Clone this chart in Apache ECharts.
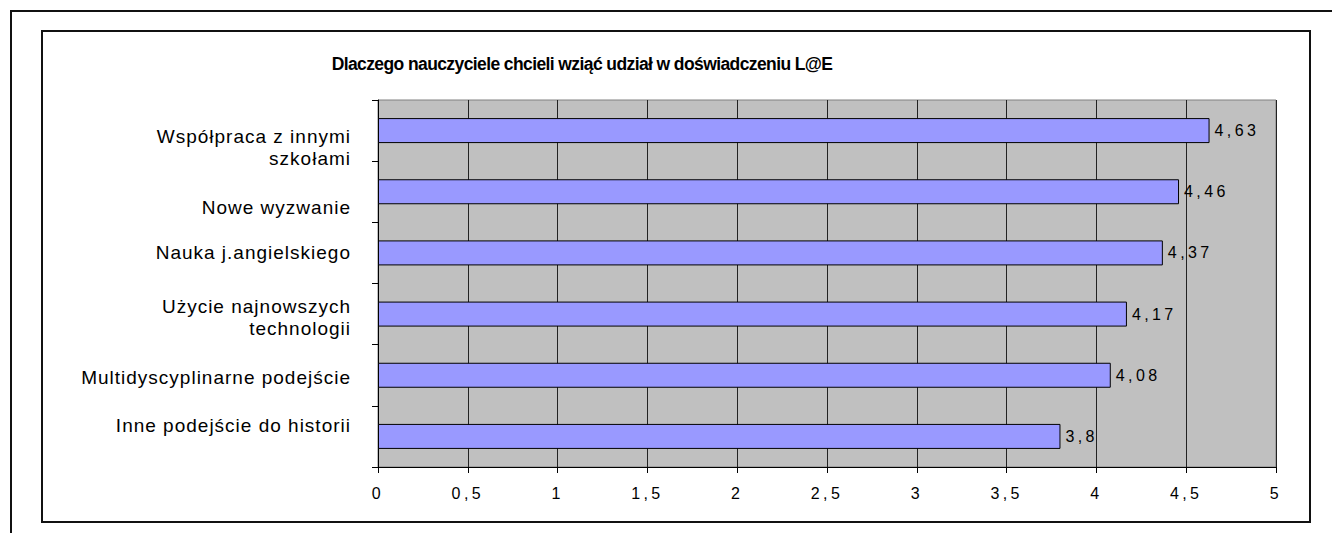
<!DOCTYPE html>
<html><head><meta charset="utf-8">
<script src="https://cdn.jsdelivr.net/npm/echarts@6/dist/echarts.min.js"></script>
<style>
html,body{margin:0;padding:0;background:#fff;}
#wrap{position:relative;width:1332px;height:533px;overflow:hidden;}
#outer{position:absolute;left:10px;top:10px;width:1400px;height:600px;border-left:2px solid #111;border-top:2px solid #111;}
#inner{position:absolute;left:41px;top:30px;width:1266px;height:489px;border:2px solid #111;}
#chart{position:absolute;left:0;top:0;width:1332px;height:533px;}
#chart text[style*="19px"]{letter-spacing:1px;}
#chart text[style*=" 16px"], #chart text[style*=":16px"]{letter-spacing:3.4px;}
#chart text[style*="17.5px"]{letter-spacing:-0.6px;}
</style></head>
<body><div id="wrap"><div id="outer"></div><div id="inner"></div><div id="chart"></div></div>
<script>
const titleText = 'Dlaczego nauczyciele chcieli wziąć udział w doświadczeniu L@E';
const categories = ['Współpraca z innymi\nszkołami','Nowe wyzwanie','Nauka j.angielskiego','Użycie najnowszych\ntechnologii','Multidyscyplinarne podejście','Inne podejście do historii'];
const values = [4.63, 4.46, 4.37, 4.17, 4.08, 3.8];

// label vertical nudges (style only, mimics the original's label placement)
const labelNudge = [17, 16, 0, 3, 2, -11];
const FONT = 'Arial, Liberation Sans';
const LH = 22;
const rich = {n:{fontSize:19,fontFamily:FONT,color:'#000',lineHeight:LH,align:'right'}};
labelNudge.forEach((s,i)=>{
  const pad = s>=0 ? [2*s,0,0,0] : [0,0,-2*s,0];
  rich['s'+i] = {fontSize:19,fontFamily:FONT,color:'#000',lineHeight:LH+2*Math.abs(s),padding:pad,align:'right'};
});

const chart = echarts.init(document.getElementById('chart'), null, {renderer:'svg'});
const fmt = v => String(v).replace('.', ',');
chart.setOption({
  animation:false,
  title:{text:titleText,left:577,top:50,textAlign:'center',textStyle:{fontFamily:FONT,fontSize:17.5,fontWeight:'bold',color:'#000'}},
  grid:{left:378,right:56,top:100,bottom:66,show:true,backgroundColor:'#C0C0C0',borderColor:'#808080',borderWidth:1},
  xAxis:{type:'value',min:0,max:5,interval:0.5,
    axisLine:{show:true,lineStyle:{color:'#000',width:1}},
    axisTick:{show:true,length:6,lineStyle:{color:'#000'}},
    splitLine:{show:true,lineStyle:{color:'#222',width:1}},
    axisLabel:{formatter:v=>fmt(v),fontFamily:FONT,fontSize:16,color:'#000',margin:18}
  },
  yAxis:{type:'category',data:categories,inverse:true,
    axisLine:{show:true,onZero:false,lineStyle:{color:'#000',width:1}},
    axisTick:{show:true,length:6,inside:false,interval:0,lineStyle:{color:'#000'}},
    splitLine:{show:false},
    axisLabel:{interval:0,hideOverlap:false,showMinLabel:true,showMaxLabel:true,fontFamily:FONT,fontSize:19,color:'#000',margin:27,align:'right',
      formatter:(v,i)=>{
        const lines = v.split('\n');
        const s = labelNudge[i];
        return lines.map((l,k)=>{
          const useS = (s>=0 && k===0) || (s<0 && k===lines.length-1);
          return '{'+(useS?('s'+i):'n')+'|'+l+'}';
        }).join('\n');
      },
      rich:rich}
  },
  series:[{type:'bar',data:values,barWidth:25,
    itemStyle:{color:'#9999FF',borderColor:'#000',borderWidth:1},
    label:{show:true,position:'right',distance:5,formatter:p=>fmt(p.value),fontFamily:FONT,fontSize:16,color:'#000'}
  }]
});
</script></body></html>
